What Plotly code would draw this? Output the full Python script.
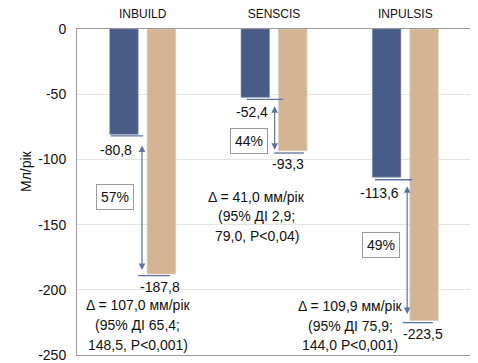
import plotly.graph_objects as go

studies = ["INBUILD", "SENSCIS", "INPULSIS"]
drug = [-80.8, -52.4, -113.6]
placebo = [-187.8, -93.3, -223.5]
drug_labels = ["-80,8", "-52,4", "-113,6"]
placebo_labels = ["-187,8", "-93,3", "-223,5"]
percents = ["57%", "44%", "49%"]
delta_lines = [
    ["Δ = 107,0 мм/рік", "(95% ДІ 65,4;", "148,5, P<0,001)"],
    ["Δ = 41,0 мм/рік", "(95% ДІ 2,9;", "79,0, P<0,04)"],
    ["Δ = 109,9 мм/рік", "(95% ДІ 75,9;", "144,0 P<0,001)"],
]
y_ticks = [0, -50, -100, -150, -200, -250]

BLUE = "rgb(72,92,135)"
TAN = "rgb(211,181,149)"
ARW = "rgb(95,115,160)"
FONT = "Liberation Sans, Arial, sans-serif"

# page body has an 8px margin, so the figure is 8px smaller and shifted
ML, MR, MT, MB = 69, 7, 21, 8
W, H = 470, 355
PW, PH = W - ML - MR, H - MT - MB

xs = list(range(len(studies)))

fig = go.Figure()
fig.add_trace(go.Bar(x=xs, y=drug, marker=dict(color=BLUE, line=dict(color="rgb(120,135,170)", width=0.6)),
                     showlegend=False, hoverinfo="skip"))
fig.add_trace(go.Bar(x=xs, y=placebo, marker=dict(color=TAN, line=dict(color="rgb(225,200,175)", width=0.6)),
                     showlegend=False, hoverinfo="skip"))

# per-study annotation placement offsets (positions only)
geo = [
    dict(bl=(-0.243, 0.003, -1.2), ax=-0.005, at=-7.4, ab=3.0, tl=(-0.036, 0.208, -1.4),
         dl=(-0.203, -12.0), pc=(-0.214, -128.8), tlab=(0.132, -10.1),
         dx=-0.036, dy=[-211.7, -227.0, -242.3]),
    dict(bl=(-0.208, 0.07, -1.5), ax=0.005, at=-5.7, ab=0.7, tl=(0.0, 0.228, -1.8),
         dl=(-0.167, -11.0), pc=(-0.19, -85.7), tlab=(0.11, -10.0),
         dx=-0.13, dy=[-128.6, -143.2, -158.5]),
    dict(bl=(-0.232, 0.052, -2.0), ax=0.014, at=-5.8, ab=4.9, tl=(-0.02, 0.21, -1.7),
         dl=(-0.2, -12.2), pc=(-0.185, -165.6), tlab=(0.135, -10.4),
         dx=-0.42, dy=[-212.4, -227.7, -242.3]),
]

annotations = []
shapes = []
for i, g in enumerate(geo):
    b0, b1, bo = g["bl"]
    shapes.append(dict(type="line", xref="x", yref="y", x0=i + b0, x1=i + b1,
                       y0=drug[i] + bo, y1=drug[i] + bo, line=dict(color=ARW, width=1.3)))
    t0, t1, to = g["tl"]
    shapes.append(dict(type="line", xref="x", yref="y", x0=i + t0, x1=i + t1,
                       y0=placebo[i] + to, y1=placebo[i] + to, line=dict(color=ARW, width=1.3)))
    annotations.append(dict(x=i + g["ax"], y=placebo[i] + g["ab"], ax=i + g["ax"], ay=drug[i] + g["at"],
                            xref="x", yref="y", axref="x", ayref="y", text="", showarrow=True,
                            arrowhead=2, startarrowhead=2, arrowside="end+start",
                            arrowsize=1.1, startarrowsize=1.1, arrowwidth=1.2, arrowcolor=ARW))
    annotations.append(dict(x=i + g["dl"][0], y=drug[i] + g["dl"][1], text=drug_labels[i],
                            xref="x", yref="y", showarrow=False, font=dict(size=14, color="#111", family=FONT)))
    annotations.append(dict(x=i + g["tlab"][0], y=placebo[i] + g["tlab"][1], text=placebo_labels[i],
                            xref="x", yref="y", showarrow=False, font=dict(size=14, color="#111", family=FONT)))
    annotations.append(dict(x=i + g["pc"][0], y=g["pc"][1], text=percents[i], xref="x", yref="y",
                            showarrow=False, bordercolor="#9a9a9a", borderwidth=1, borderpad=4, bgcolor="white",
                            font=dict(size=14, color="#111", family=FONT)))
    for line, yy in zip(delta_lines[i], g["dy"]):
        annotations.append(dict(x=i + g["dx"], y=yy, text=line, xref="x", yref="y", showarrow=False,
                                font=dict(size=14, color="#111", family=FONT)))

annotations.append(dict(x=(8 - ML) / PW, y=1 - (163 - MT) / PH, xref="paper", yref="paper",
                        text="Мл/рік", textangle=-90, showarrow=False,
                        font=dict(size=14, color="#111", family=FONT)))

fig.update_layout(
    template="none",
    width=W, height=H,
    margin=dict(l=ML, r=MR, t=MT, b=MB, pad=0, autoexpand=False),
    paper_bgcolor="white", plot_bgcolor="white",
    barmode="group", bargap=0.43, bargroupgap=0.24,
    shapes=shapes, annotations=annotations,
    font=dict(family=FONT, color="#111"),
)

fig.update_xaxes(range=[-0.5, 2.5], tickvals=xs, ticktext=studies, side="top", automargin=False,
                 showline=True, mirror=True, linecolor="#9a9a9a", linewidth=1,
                 showgrid=False, zeroline=False, ticks="", ticklabelstandoff=5,
                 tickfont=dict(size=12, color="#111", family=FONT))
fig.update_yaxes(range=[-250, 0], tickvals=y_ticks, ticktext=[str(v) for v in y_ticks], automargin=False,
                 showline=True, mirror=True, linecolor="#9a9a9a", linewidth=1,
                 showgrid=True, gridcolor="#e4e4e4", gridwidth=1, zeroline=False,
                 ticks="", ticklabelstandoff=7, tickfont=dict(size=14, color="#111", family=FONT))

fig.write_html("out.html")
